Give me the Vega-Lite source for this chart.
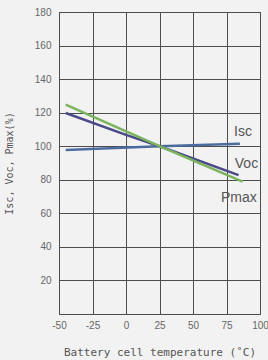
{
  "$schema": "https://vega.github.io/schema/vega-lite/v6.json",
  "width": 201,
  "height": 302,
  "autosize": {"type": "none"},
  "padding": {"left": 59, "top": 12, "right": 8, "bottom": 46},
  "background": "#f2f2f2",
  "config": {
    "view": {"stroke": "#4d4d4d", "strokeWidth": 1},
    "axis": {"grid": true, "gridColor": "#4d4d4d", "gridOpacity": 1, "gridWidth": 1, "domain": false, "ticks": false, "labelOverlap": false, "labelFont": "Liberation Sans", "labelFontSize": 10, "labelColor": "#666666"}
  },
  "datasets": {
    "lines": [
      {"series": "Isc", "t": -45, "v": 97.8},
      {"series": "Isc", "t": 25, "v": 100},
      {"series": "Isc", "t": 85, "v": 101.4},
      {"series": "Voc", "t": -45, "v": 119.8},
      {"series": "Voc", "t": 0, "v": 106.8},
      {"series": "Voc", "t": 25, "v": 100},
      {"series": "Voc", "t": 84, "v": 82.8},
      {"series": "Pmax", "t": -45, "v": 124.8},
      {"series": "Pmax", "t": 25, "v": 100},
      {"series": "Pmax", "t": 87, "v": 78.9}
    ],
    "labels": [
      {"label": "Isc", "t": 80.6, "v": 108.5},
      {"label": "Voc", "t": 81.2, "v": 89.4},
      {"label": "Pmax", "t": 70.9, "v": 69.1}
    ]
  },
  "encoding": {
    "x": {"field": "t", "type": "quantitative", "scale": {"domain": [-50, 100], "nice": false, "zero": false}, "axis": {"values": [-50, -25, 0, 25, 50, 75, 100], "labelExpr": "replace(datum.label, '\u2212', '-')", "labelPadding": 6, "title": "Battery cell temperature (˚C)", "titleFont": "DejaVu Sans Mono", "titleFontSize": 11, "titleFontWeight": "normal", "titleColor": "#555555", "titlePadding": 16, "labelFlush": false}},
    "y": {"field": "v", "type": "quantitative", "scale": {"domain": [0, 180], "nice": false}, "axis": {"values": [0, 20, 40, 60, 80, 100, 120, 140, 160, 180], "labelExpr": "datum.value == 0 ? '' : datum.label", "labelPadding": 8, "title": "Isc, Voc, Pmax(%)", "titleFont": "DejaVu Sans Mono", "titleFontSize": 10, "titleFontWeight": "normal", "titleColor": "#555555", "titlePadding": 20}}
  },
  "layer": [
    {
      "data": {"name": "lines"},
      "mark": {"type": "line", "strokeWidth": 2.5},
      "encoding": {
        "color": {"field": "series", "type": "nominal", "scale": {"domain": ["Isc", "Voc", "Pmax"], "range": ["#4a6d9e", "#4b4a8a", "#7bb35e"]}, "legend": null},
        "order": {"field": "t"}
      }
    },
    {
      "data": {"name": "labels"},
      "mark": {"type": "text", "align": "left", "baseline": "middle", "font": "Liberation Sans", "fontSize": 14, "color": "#555555"},
      "encoding": {
        "text": {"field": "label"}
      }
    }
  ]
}
